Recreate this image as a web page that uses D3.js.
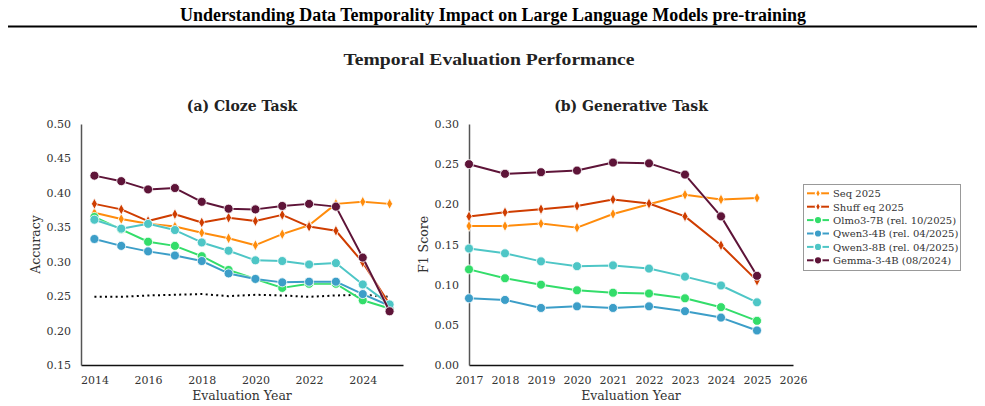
<!DOCTYPE html>
<html>
<head>
<meta charset="utf-8">
<script src="https://cdn.jsdelivr.net/npm/d3@7"></script>
<style>
  body { margin: 0; background: #fff; }
  svg { display: block; }
  .tick text { font-family: 'DejaVu Serif', serif; font-size: 11px; fill: #333; }
</style>
</head>
<body>
<div id="chart"></div>
<script>
const clozeYears = [2014, 2015, 2016, 2017, 2018, 2019, 2020, 2021, 2022, 2023, 2024, 2025]
const genYears = [2017, 2018, 2019, 2020, 2021, 2022, 2023, 2024, 2025]

// cloze accuracy per model
const clozeSeq = [0.371, 0.362, 0.355, 0.351, 0.342, 0.334, 0.324, 0.340, 0.353, 0.384, 0.387, 0.384]
const clozeShuff = [0.384, 0.376, 0.359, 0.369, 0.357, 0.364, 0.359, 0.368, 0.351, 0.345, 0.299, 0.238]
const clozeOlmo = [0.365, 0.347, 0.329, 0.323, 0.308, 0.288, 0.275, 0.262, 0.268, 0.268, 0.244, 0.232]
const clozeQwen4 = [0.333, 0.323, 0.315, 0.309, 0.301, 0.283, 0.275, 0.270, 0.271, 0.271, 0.253, 0.236]
const clozeQwen8 = [0.361, 0.348, 0.355, 0.346, 0.328, 0.316, 0.302, 0.301, 0.296, 0.298, 0.267, 0.238]
const clozeGemma = [0.425, 0.417, 0.405, 0.407, 0.387, 0.377, 0.376, 0.381, 0.384, 0.380, 0.306, 0.228]
const clozeBaseline = [0.249, 0.249, 0.251, 0.252, 0.253, 0.250, 0.252, 0.251, 0.249, 0.251, 0.252, 0.249]

// generative F1 per model
const genSeq = [0.173, 0.173, 0.176, 0.171, 0.188, 0.200, 0.212, 0.206, 0.208]
const genShuff = [0.185, 0.190, 0.194, 0.198, 0.206, 0.201, 0.185, 0.149, 0.105]
const genOlmo = [0.119, 0.108, 0.100, 0.093, 0.090, 0.089, 0.083, 0.072, 0.055]
const genQwen4 = [0.083, 0.081, 0.071, 0.073, 0.071, 0.073, 0.067, 0.059, 0.043]
const genQwen8 = [0.145, 0.139, 0.129, 0.123, 0.124, 0.120, 0.110, 0.099, 0.078]
const genGemma = [0.250, 0.238, 0.240, 0.242, 0.252, 0.251, 0.237, 0.185, 0.111]

const seriesNames = ['Seq 2025', 'Shuff eq 2025', 'Olmo3-7B (rel. 10/2025)', 'Qwen3-4B (rel. 04/2025)', 'Qwen3-8B (rel. 04/2025)', 'Gemma-3-4B (08/2024)']
const seriesColors = ['#ff8c0c', '#cf3d00', '#33dd6a', '#3c9ec8', '#4ec6c6', '#5e1438']
const seriesMarkers = ['diamond', 'diamond', 'circle', 'circle', 'circle', 'circle']

const clozeTicksX = [2014, 2016, 2018, 2020, 2022, 2024]
const clozeTicksY = [0.15, 0.20, 0.25, 0.30, 0.35, 0.40, 0.45, 0.50]
const genTicksX = [2017, 2018, 2019, 2020, 2021, 2022, 2023, 2024, 2025, 2026]
const genTicksY = [0.00, 0.05, 0.10, 0.15, 0.20, 0.25, 0.30]

const width = 985
const height = 406

const svg = d3.select('#chart').append('svg')
  .attr('width', width)
  .attr('height', height)

svg.append('text')
  .attr('x', 493).attr('y', 21)
  .attr('text-anchor', 'middle')
  .attr('font-family', 'Liberation Serif, serif')
  .attr('font-weight', 'bold')
  .attr('font-size', 18.5)
  .attr('textLength', 626)
  .attr('lengthAdjust', 'spacingAndGlyphs')
  .text('Understanding Data Temporality Impact on Large Language Models pre-training')

svg.append('line')
  .attr('x1', 8).attr('x2', 977)
  .attr('y1', 26.5).attr('y2', 26.5)
  .attr('stroke', '#000').attr('stroke-width', 2)

svg.append('text')
  .attr('x', 489).attr('y', 65)
  .attr('text-anchor', 'middle')
  .attr('font-family', 'Liberation Serif, serif')
  .attr('font-weight', 'bold')
  .attr('font-size', 17.5)
  .attr('fill', '#222')
  .attr('textLength', 291)
  .attr('lengthAdjust', 'spacingAndGlyphs')
  .text('Temporal Evaluation Performance')

function symbolPath(kind, scale = 1) {
  if (kind === 'diamond') return `M0,${-5.5 * scale}L${3 * scale},0L0,${5.5 * scale}L${-3 * scale},0Z`
  return d3.symbol(d3.symbolCircle, 64 * scale * scale)()
}

function drawPanel({ left, right, top, bottom, xDomain, yDomain, xTicks, yTicks, title, yLabel, years, series, baseline }) {
  const x = d3.scaleLinear().domain(xDomain).range([left, right])
  const y = d3.scaleLinear().domain(yDomain).range([bottom, top])
  const g = svg.append('g')

  g.append('g')
    .attr('transform', `translate(0,${bottom})`)
    .call(d3.axisBottom(x).tickValues(xTicks).tickFormat(d3.format('d')).tickSize(0).tickPadding(11))
    .call(a => a.select('.domain').attr('stroke', '#111').attr('stroke-width', 1.5))

  g.append('g')
    .attr('transform', `translate(${left},0)`)
    .call(d3.axisLeft(y).tickValues(yTicks).tickFormat(d3.format('.2f')).tickSize(0).tickPadding(10))
    .call(a => a.select('.domain').attr('stroke', '#555').attr('stroke-width', 1.5))

  g.append('text')
    .attr('x', (left + right) / 2).attr('y', 111)
    .attr('text-anchor', 'middle')
    .attr('font-family', 'DejaVu Serif, serif')
    .attr('font-weight', 'bold')
    .attr('font-size', 14)
    .attr('fill', '#222')
    .text(title)

  g.append('text')
    .attr('x', (left + right) / 2).attr('y', 400)
    .attr('text-anchor', 'middle')
    .attr('font-family', 'DejaVu Serif, serif')
    .attr('font-size', 12.5)
    .attr('fill', '#333')
    .text('Evaluation Year')

  g.append('text')
    .attr('transform', `translate(${left - 41},${(top + bottom) / 2}) rotate(-90)`)
    .attr('text-anchor', 'middle')
    .attr('font-family', 'DejaVu Serif, serif')
    .attr('font-size', 12.5)
    .attr('fill', '#333')
    .text(yLabel)

  const line = d3.line().x(d => x(d[0])).y(d => y(d[1]))

  if (baseline) {
    g.append('path')
      .attr('d', line(years.map((yr, i) => [yr, baseline[i]])))
      .attr('fill', 'none')
      .attr('stroke', '#000')
      .attr('stroke-width', 2)
      .attr('stroke-dasharray', '2,3.3')
  }

  series.forEach((values, si) => {
    const pts = years.map((yr, i) => [yr, values[i]])
    const color = seriesColors[si]
    g.append('path')
      .attr('d', line(pts))
      .attr('fill', 'none')
      .attr('stroke', '#fff')
      .attr('stroke-opacity', 0.6)
      .attr('stroke-width', 3.2)
      .attr('stroke-linejoin', 'round')
    g.append('path')
      .attr('d', line(pts))
      .attr('fill', 'none')
      .attr('stroke', color)
      .attr('stroke-width', 2)
      .attr('stroke-linejoin', 'round')
    g.selectAll(null)
      .data(pts)
      .join('path')
      .attr('transform', d => `translate(${x(d[0])},${y(d[1])})`)
      .attr('d', symbolPath(seriesMarkers[si]))
      .attr('fill', color)
      .attr('stroke', '#fff')
      .attr('stroke-width', 0.8)
  })
}

drawPanel({
  left: 81, right: 403, top: 124, bottom: 365,
  xDomain: [2013.5, 2025.5], yDomain: [0.15, 0.50],
  xTicks: clozeTicksX, yTicks: clozeTicksY,
  title: '(a) Cloze Task', yLabel: 'Accuracy',
  years: clozeYears,
  series: [clozeSeq, clozeShuff, clozeOlmo, clozeQwen4, clozeQwen8, clozeGemma],
  baseline: clozeBaseline
})

drawPanel({
  left: 469, right: 793, top: 124, bottom: 365,
  xDomain: [2017, 2026], yDomain: [0, 0.30],
  xTicks: genTicksX, yTicks: genTicksY,
  title: '(b) Generative Task', yLabel: 'F1 Score',
  years: genYears,
  series: [genSeq, genShuff, genOlmo, genQwen4, genQwen8, genGemma]
})

// legend
const legend = svg.append('g').attr('transform', 'translate(803,184)')
legend.append('rect')
  .attr('x', 0.5).attr('y', 0.5)
  .attr('width', 157).attr('height', 86)
  .attr('fill', '#fff')
  .attr('stroke', '#999')
  .attr('stroke-width', 1)

const item = legend.selectAll('g.item')
  .data(seriesNames)
  .join('g')
  .attr('class', 'item')
  .attr('transform', (d, i) => `translate(0,${9.3 + i * 13.4})`)

item.append('line')
  .attr('x1', 4).attr('x2', 26)
  .attr('stroke', (d, i) => seriesColors[i])
  .attr('stroke-width', 2)
item.append('path')
  .attr('transform', 'translate(15,0)')
  .attr('d', (d, i) => symbolPath(seriesMarkers[i], 0.85))
  .attr('fill', (d, i) => seriesColors[i])
  .attr('stroke', '#fff')
  .attr('stroke-width', 1.5)
item.append('text')
  .attr('x', 30).attr('y', 3.8)
  .attr('font-family', 'DejaVu Serif, serif')
  .attr('font-size', 10)
  .attr('fill', '#333')
  .text(d => d)
</script>
</body>
</html>
